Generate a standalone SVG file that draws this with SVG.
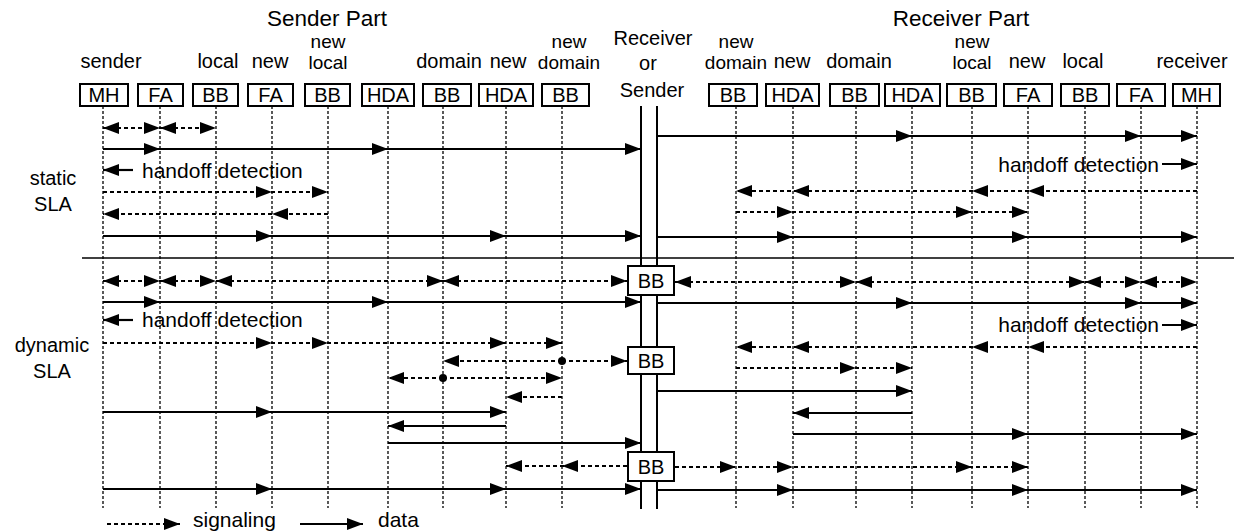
<svg xmlns="http://www.w3.org/2000/svg" width="1234" height="531" viewBox="0 0 1234 531">
<style>
text{font-family:"Liberation Sans",Arial,sans-serif;fill:#000}
.t{font-size:20px;text-anchor:middle}
.s{font-size:19px;text-anchor:middle}
.h{font-size:22.5px;text-anchor:middle}
.bt{font-size:20px;text-anchor:middle}
.lg{font-size:21px}
.box{fill:#fff;stroke:#000;stroke-width:2}
.life{stroke:#000;stroke-width:1.3;stroke-dasharray:3 2;fill:none}
.sig{stroke:#000;stroke-width:2;stroke-dasharray:4 3;fill:none;marker-end:url(#a);marker-mid:url(#a)}
.dat{stroke:#000;stroke-width:2.2;fill:none;marker-end:url(#a);marker-mid:url(#a)}
.bi{marker-start:url(#a)}
.rail{stroke:#000;stroke-width:2;fill:none}
</style>
<defs>
<marker id="a" markerUnits="userSpaceOnUse" markerWidth="17" markerHeight="13" refX="16" refY="6" orient="auto-start-reverse"><path d="M0,0 L16,6 L0,12 Z" fill="#000"/></marker>
</defs>
<rect width="1234" height="531" fill="#fff"/>

<g id="titles">
<text class="h" x="327" y="26">Sender Part</text>
<text class="h" x="961" y="26">Receiver Part</text>
<text class="t" x="653" y="45" font-size="21">Receiver</text>
<text class="t" x="648" y="70" font-size="21">or</text>
<text class="t" x="652" y="97" font-size="21">Sender</text>
<text class="t" x="53" y="185" font-size="21">static</text>
<text class="t" x="53" y="211" font-size="21">SLA</text>
<text class="t" x="52" y="352" font-size="21">dynamic</text>
<text class="t" x="52" y="378" font-size="21">SLA</text>
</g>

<g id="lifelines">
<path class="life" d="M103,106V508M160,106V508M216,106V508M272,106V508M328,106V508M388,106V508M443,106V508M506,106V508M562,106V508M736,106V508M793,106V508M856,106V508M912,106V508M972,106V508M1028,106V508M1085,106V508M1141,106V508M1197,106V508"/>
<path class="rail" d="M641,106V509M657,106V509"/>
<line x1="82" y1="258" x2="1234" y2="258" stroke="#000" stroke-width="1.5"/>
</g>

<g id="n-mh-s"><text class="t" x="111" y="68">sender</text><rect class="box" x="80" y="84" width="48" height="22"/><text class="bt" x="104" y="102">MH</text></g>
<g id="n-fa-s"><rect class="box" x="138" y="84" width="45" height="22"/><text class="bt" x="160.5" y="102">FA</text></g>
<g id="n-bb-local-s"><text class="t" x="218" y="68">local</text><rect class="box" x="193" y="84" width="45" height="22"/><text class="bt" x="215.5" y="102">BB</text></g>
<g id="n-fa-new-s"><text class="t" x="270" y="68">new</text><rect class="box" x="248" y="84" width="45" height="22"/><text class="bt" x="270.5" y="102">FA</text></g>
<g id="n-bb-newlocal-s"><text class="s" x="328" y="48">new</text><text class="s" x="328" y="69">local</text><rect class="box" x="305" y="84" width="45" height="22"/><text class="bt" x="327.5" y="102">BB</text></g>
<g id="n-hda-s"><rect class="box" x="362" y="84" width="52" height="22"/><text class="bt" x="388" y="102">HDA</text></g>
<g id="n-bb-domain-s"><text class="t" x="449" y="68">domain</text><rect class="box" x="423" y="84" width="48" height="22"/><text class="bt" x="447" y="102">BB</text></g>
<g id="n-hda-new-s"><text class="t" x="508" y="68">new</text><rect class="box" x="479" y="84" width="54" height="22"/><text class="bt" x="506" y="102">HDA</text></g>
<g id="n-bb-newdomain-s"><text class="s" x="569" y="48">new</text><text class="s" x="569" y="69">domain</text><rect class="box" x="542" y="84" width="47" height="22"/><text class="bt" x="565.5" y="102">BB</text></g>

<g id="n-bb-newdomain-r"><text class="s" x="736" y="48">new</text><text class="s" x="736" y="69">domain</text><rect class="box" x="709" y="84" width="48" height="22"/><text class="bt" x="733" y="102">BB</text></g>
<g id="n-hda-new-r"><text class="t" x="792" y="68">new</text><rect class="box" x="766" y="84" width="53" height="22"/><text class="bt" x="792.5" y="102">HDA</text></g>
<g id="n-bb-domain-r"><text class="t" x="859" y="68">domain</text><rect class="box" x="830" y="84" width="49" height="22"/><text class="bt" x="854.5" y="102">BB</text></g>
<g id="n-hda-r"><rect class="box" x="885" y="84" width="55" height="22"/><text class="bt" x="912.5" y="102">HDA</text></g>
<g id="n-bb-newlocal-r"><text class="s" x="972" y="48">new</text><text class="s" x="972" y="69">local</text><rect class="box" x="947" y="84" width="49" height="22"/><text class="bt" x="971.5" y="102">BB</text></g>
<g id="n-fa-new-r"><text class="t" x="1027" y="68">new</text><rect class="box" x="1004" y="84" width="48" height="22"/><text class="bt" x="1028" y="102">FA</text></g>
<g id="n-bb-local-r"><text class="t" x="1083" y="68">local</text><rect class="box" x="1061" y="84" width="48" height="22"/><text class="bt" x="1085" y="102">BB</text></g>
<g id="n-fa-r"><rect class="box" x="1117" y="84" width="48" height="22"/><text class="bt" x="1141" y="102">FA</text></g>
<g id="n-mh-r"><text class="t" x="1192" y="68">receiver</text><rect class="box" x="1173" y="84" width="47" height="22"/><text class="bt" x="1196.5" y="102">MH</text></g>

<g id="connectors">
<!-- static -->
<path class="sig bi" d="M103,128H160"/>
<path class="sig bi" d="M160,128H216"/>
<path class="dat" d="M657,136H912H1141H1197"/>
<path class="dat" d="M103,149H160H388H641"/>
<path class="dat" d="M133,170H103"/>
<path class="dat" d="M1162,164H1197"/>
<path class="sig" d="M103,192H272H328"/>
<path class="sig" d="M1197,191H1028H972H793H736"/>
<path class="sig" d="M328,214H272H103"/>
<path class="sig" d="M736,212H793H972H1028"/>
<path class="dat" d="M103,236H272H506H641"/>
<path class="dat" d="M657,237H793H1028H1197"/>
<!-- dynamic -->
<path class="sig bi" d="M103,281H160"/>
<path class="sig bi" d="M160,281H216"/>
<path class="sig bi" d="M216,281H443"/>
<path class="sig bi" d="M443,281H627"/>
<path class="sig bi" d="M675,282H856"/>
<path class="sig bi" d="M856,282H1085"/>
<path class="sig bi" d="M1085,282H1141"/>
<path class="sig bi" d="M1141,282H1197"/>
<path class="dat" d="M103,302H160H388H641"/>
<path class="dat" d="M657,303H912H1141H1197"/>
<path class="dat" d="M133,320H103"/>
<path class="dat" d="M1162,325H1197"/>
<path class="sig" d="M103,343H272H328H506H562"/>
<path class="sig" d="M1197,347H1028H972H793H736"/>
<path class="sig" d="M562,361H443"/>
<path class="sig" d="M562,361H627"/>
<circle cx="562" cy="361" r="4" fill="#000"/>
<path class="sig" d="M736,368H856H912"/>
<path class="sig" d="M443,378H388"/>
<path class="sig" d="M443,378H562"/>
<circle cx="443" cy="378" r="4" fill="#000"/>
<path class="dat" d="M657,391H912"/>
<path class="sig" d="M562,397H506"/>
<path class="dat" d="M103,412H272H506"/>
<path class="dat" d="M912,413H793"/>
<path class="dat" d="M506,426H388"/>
<path class="dat" d="M793,434H1028H1197"/>
<path class="dat" d="M388,443H641"/>
<path class="sig" d="M627,466H562H506"/>
<path class="sig" d="M675,467H736H793H972H1028"/>
<path class="dat" d="M103,489H272H506H641"/>
<path class="dat" d="M657,490H793H1028H1197"/>
</g>

<g id="n-bb-c1"><rect class="box" x="628" y="266" width="46" height="29"/><text class="bt" x="651" y="288">BB</text></g>
<g id="n-bb-c2"><rect class="box" x="628" y="347" width="46" height="27"/><text class="bt" x="651" y="368">BB</text></g>
<g id="n-bb-c3"><rect class="box" x="628" y="452" width="46" height="29"/><text class="bt" x="651" y="474">BB</text></g>

<g id="labels">
<text class="lg" x="142" y="178">handoff detection</text>
<text class="lg" x="1159" y="172" text-anchor="end">handoff detection</text>
<text class="lg" x="142" y="327">handoff detection</text>
<text class="lg" x="1159" y="332" text-anchor="end">handoff detection</text>
</g>

<g id="legend">
<path class="sig" d="M107,524H180"/>
<text class="lg" x="193" y="527">signaling</text>
<path class="dat" d="M300,524H363"/>
<text class="lg" x="378" y="527">data</text>
</g>
</svg>
